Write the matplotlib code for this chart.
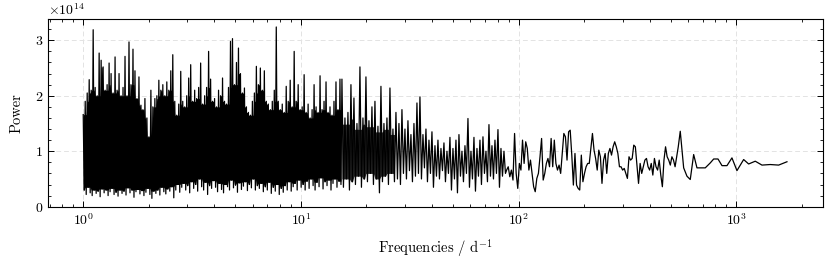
import numpy as np
import matplotlib
matplotlib.use("Agg")
import matplotlib.pyplot as plt
from matplotlib.ticker import MultipleLocator, LogLocator, ScalarFormatter
from numpy.lib.stride_tricks import sliding_window_view

plt.rcParams.update({
    "font.family": "serif",
    "font.serif": ["cmr10", "DejaVu Serif"],
    "mathtext.fontset": "cm",
    "axes.formatter.use_mathtext": True,
    "axes.unicode_minus": False,
    "font.size": 10,
})

SCALE = 1e14

# --- dense part (1 to ~15 d^-1): upper and lower envelope of the noise ---
dense_hi = [1.66, 1.9, 2.05, 2.29, 2.1, 3.19, 2.15, 2.0, 2.77, 2.64,
            2.52, 2.1, 2.2, 2.59, 2.4, 2.05, 2.7, 2.1, 2.4, 2.0,
            2.15, 2.71, 2.0, 2.97, 2.2, 2.84, 2.45, 1.95, 2.34, 1.83,
            1.75, 1.95, 1.6, 1.26, 2.1, 1.8, 1.95, 2.0, 2.28, 2.1,
            2.2, 2.0, 2.25, 2.1, 2.45, 2.74, 1.9, 1.65, 1.85, 2.44,
            1.9, 1.8, 2.0, 2.32, 2.56, 1.9, 2.1, 1.95, 2.15, 2.59,
            1.85, 2.0, 2.15, 2.8, 2.3, 1.9, 1.95, 1.8, 2.1, 2.0,
            2.32, 1.9, 1.85, 2.15, 2.98, 3.03, 2.2, 2.6, 2.86, 2.4,
            2.05, 2.14, 1.8, 1.7, 1.65, 1.9, 2.05, 2.53, 2.2, 2.5,
            2.1, 2.45, 1.9, 1.85, 1.75, 1.9, 2.1, 3.24, 1.9, 1.75,
            1.85, 1.7, 2.17, 1.9, 2.28, 1.8, 2.8, 1.9, 2.2, 1.75,
            1.8, 2.38, 1.7, 1.85, 1.6, 1.75, 2.2, 1.8, 1.7, 2.36,
            1.75, 1.9, 2.25, 1.7, 1.8, 1.65, 1.9, 2.25, 1.75, 2.3]
dense_lo = [0.3, 0.22, 0.35, 0.25, 0.2, 0.3, 0.24, 0.28, 0.18, 0.32,
            0.25, 0.3, 0.2, 0.27, 0.33, 0.22, 0.26, 0.19, 0.3, 0.24,
            0.28, 0.21, 0.34, 0.25, 0.3, 0.17, 0.27, 0.31, 0.23, 0.29,
            0.2, 0.26, 0.33, 0.22, 0.15, 0.28, 0.24, 0.3, 0.21, 0.35,
            0.27, 0.23, 0.32, 0.28, 0.36, 0.16, 0.3, 0.4, 0.26, 0.35,
            0.42, 0.3, 0.38, 0.25, 0.45, 0.33, 0.4, 0.28, 0.5, 0.36,
            0.3, 0.44, 0.22, 0.38, 0.33, 0.47, 0.35, 0.27, 0.42, 0.31,
            0.25, 0.4, 0.36, 0.3, 0.48, 0.34, 0.39, 0.26, 0.43, 0.31,
            0.37, 0.45, 0.29, 0.4, 0.34, 0.5, 0.3, 0.38, 0.33, 0.42,
            0.27, 0.36, 0.3, 0.44, 0.24, 0.35, 0.28, 0.4, 0.22, 0.33,
            0.26, 0.38, 0.3, 0.45, 0.28, 0.36, 0.42, 0.3, 0.48, 0.35,
            0.4, 0.3, 0.46, 0.33, 0.5, 0.38, 0.3, 0.44, 0.36, 0.52,
            0.32, 0.45, 0.38, 0.48, 0.3, 0.42, 0.5, 0.35, 0.46, 0.4]
dense_range = (1.0, 15.27)

# --- transition part (~15 to ~87 d^-1) ---
mid_hi = [2.3, 1.6, 1.7, 2.2, 1.96, 1.5, 2.52, 1.6, 2.34, 1.55,
          1.8, 1.9, 1.45, 2.17, 1.5, 1.6, 2.14, 1.4, 1.7, 1.5,
          1.75, 1.4, 1.55, 1.3, 1.5, 1.87, 1.98, 1.3, 1.4, 1.2,
          1.35, 1.1, 1.2, 1.05, 1.15, 1.0, 1.25, 1.05, 1.2, 1.3,
          1.0, 1.1, 1.59, 1.0, 1.25, 1.05, 1.2, 1.26, 1.0, 1.48,
          1.1, 1.2, 1.39, 1.05, 1.0]
mid_lo = [0.35, 0.5, 0.3, 0.45, 0.4, 0.55, 0.35, 0.5, 0.45, 0.6,
          0.4, 0.5, 0.25, 0.45, 0.55, 0.4, 0.6, 0.45, 0.5, 0.4,
          0.6, 0.5, 0.65, 0.45, 0.55, 0.6, 0.5, 0.7, 0.45, 0.6,
          0.35, 0.55, 0.5, 0.65, 0.45, 0.6, 0.3, 0.5, 0.25, 0.55,
          0.45, 0.6, 0.35, 0.5, 0.28, 0.55, 0.4, 0.6, 0.45, 0.55,
          0.5, 0.6, 0.35, 0.55, 0.6]
mid_range = (15.43, 86.99)

# --- sparse part (~88 to ~541 d^-1) ---
sparse_vals = [0.66, 0.72, 0.54, 0.66, 0.48, 1.32, 0.60, 0.33, 0.78, 0.66,
               1.20, 0.78, 1.17, 1.05, 0.66, 0.84, 0.60, 0.36, 0.27, 0.51,
               0.60, 0.90, 1.23, 0.48, 0.60, 0.78, 0.87, 0.72, 1.23, 0.72,
               1.20, 0.78, 0.66, 0.75, 0.60, 0.96, 1.32, 1.26, 0.84, 1.35,
               1.38, 0.93, 0.39, 0.96, 0.39, 0.33, 0.30, 0.93, 0.45, 0.60,
               0.72, 0.78, 0.78, 1.05, 1.32, 1.02, 0.87, 0.66, 1.02, 0.90,
               0.42, 0.84, 0.96, 0.60, 0.96, 1.05, 0.93, 1.08, 1.17, 1.08,
               0.96, 0.72, 0.72, 0.66, 0.69, 0.60, 0.51, 0.90, 0.84, 0.87,
               1.11, 1.08, 0.75, 0.42, 0.78, 0.60, 0.72, 0.84, 0.87, 0.72,
               0.66, 0.78, 0.57, 0.87, 0.72, 0.66, 0.84, 0.57, 0.36, 0.84,
               1.08, 0.90, 0.84, 0.75, 0.90, 0.84, 0.72, 0.90, 1.08]
sparse_range = (88.07, 541.0)

# --- highest frequencies: individual points ---
tail_freq = [552.5, 572.8, 593.1, 614.2, 636.7, 659.3, 719.8, 759.2, 786.9,
             823.6, 859.2, 905.6, 954.5, 1006.4, 1080.3, 1139.0, 1221.3,
             1311.0, 1431.0, 1564.0, 1708.0]
tail_vals = [1.36, 0.70, 0.55, 0.49, 0.94, 0.70, 0.70, 0.79, 0.86,
             0.86, 0.74, 0.74, 0.88, 0.65, 0.85, 0.77, 0.82,
             0.75, 0.76, 0.75, 0.81]


def interleave(a, b):
    return np.column_stack([a, b]).ravel()


def rolling(arr, func, w=3):
    a = np.asarray(arr, dtype=float)
    pad = np.pad(a, w // 2, mode="edge")
    return func(sliding_window_view(pad, w), axis=1)


p_dense = interleave(dense_hi, dense_lo)
f_dense = np.geomspace(*dense_range, len(p_dense))
p_mid = interleave(mid_hi, mid_lo)
f_mid = np.geomspace(*mid_range, len(p_mid))
p_sparse = np.array(sparse_vals)
f_sparse = np.geomspace(*sparse_range, len(p_sparse))

freq = np.concatenate([f_dense, f_mid, f_sparse, tail_freq])
power = np.concatenate([p_dense, p_mid, p_sparse, tail_vals]) * SCALE

# solid core of the dense noise band (between neighbouring extremes)
core_top = np.repeat(rolling(dense_hi, np.min), 2) * SCALE
core_bot = np.repeat(rolling(dense_lo, np.max), 2) * SCALE
n_mid_core = 36
mid_top = np.repeat(rolling(mid_hi, np.min)[:n_mid_core // 2], 2) * SCALE
mid_bot = np.repeat(rolling(mid_lo, np.max)[:n_mid_core // 2], 2) * SCALE

fig = plt.figure(figsize=(8.3, 2.63), dpi=100)
ax = fig.add_axes([0.058, 0.212, 0.934, 0.716])
ax.fill_between(f_dense, core_bot, core_top, color="black", lw=0)
ax.fill_between(f_mid[:n_mid_core], mid_bot, mid_top * 0.93, color="black",
                lw=0, alpha=0.85)
ax.plot(freq, power, color="black", lw=0.9)
ax.set_xscale("log")
ax.set_xlim(0.69, 2510)
ax.set_ylim(-0.01 * SCALE, 3.385 * SCALE)

ax.yaxis.set_major_locator(MultipleLocator(1 * SCALE))
ax.yaxis.set_minor_locator(MultipleLocator(0.2 * SCALE))
fmt = ScalarFormatter(useMathText=True)
fmt.set_powerlimits((0, 0))
ax.yaxis.set_major_formatter(fmt)
ax.xaxis.set_major_locator(LogLocator(base=10))
ax.xaxis.set_minor_locator(LogLocator(base=10, subs=np.arange(2, 10)))

ax.tick_params(which="both", direction="in", top=True, right=True, labelsize=10)
ax.tick_params(which="major", length=4.5, width=0.7)
ax.tick_params(which="minor", length=2.3, width=0.6)
for s in ax.spines.values():
    s.set_linewidth(0.8)

ax.grid(True, which="major", ls=(0, (5, 3)), color="#e3e3e3", lw=0.7)
ax.set_axisbelow(True)

ax.set_xlabel(r"Frequencies / d$^{-1}$", fontsize=10.5, labelpad=7)
ax.set_ylabel("Power", fontsize=10.5, labelpad=8)

fig.savefig("out.png", dpi=100)
